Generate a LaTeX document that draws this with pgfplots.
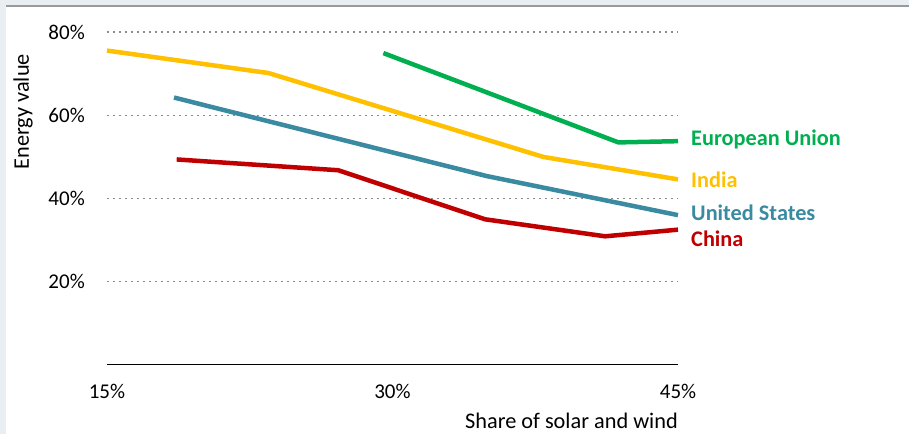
\documentclass[border=0pt]{standalone}
\usepackage{pgfplots}
\pgfplotsset{compat=1.18}
\usepackage{fontspec}
\setmainfont{Carlito}

\definecolor{euGreen}{HTML}{00B050}
\definecolor{inYellow}{HTML}{FFC000}
\definecolor{usBlue}{HTML}{3A8BA1}
\definecolor{cnRed}{HTML}{C00000}
\definecolor{frame}{HTML}{E9EEF2}

\newcommand{\fs}{\fontsize{21}{23}\selectfont}
\newcommand{\fl}{\fontsize{22.3}{24}\selectfont}

\begin{document}
\begin{tikzpicture}
% picture size in px-like points: origin is the axis' lower left corner
\path[use as bounding box] (-107pt,-69.3pt) rectangle (802pt,364.7pt);
\fill[frame] (-107pt,-69.3pt) rectangle (802pt,364.7pt);
\fill[white] (-101pt,-69.3pt) rectangle (802pt,357.7pt);
\draw[gray!80, line width=1.6pt] (-101pt,358.5pt) -- (802pt,358.5pt);

\begin{axis}[
  at={(0pt,0pt)}, anchor=south west,
  scale only axis,
  width=571pt, height=332.4pt,
  xmin=15, xmax=45, ymin=0, ymax=80,
  axis x line*=bottom, axis y line*=left,
  axis line style={-},
  x axis line style={black, line width=1.3pt},
  y axis line style={draw=none},
  xtick={15,30,45}, xticklabels={15\%,30\%,45\%},
  ytick={20,40,60,80}, yticklabels={20\%,40\%,60\%,80\%},
  major tick length=0pt,
  /pgf/number format/assume math mode=true,
  tick label style={font=\fs, inner sep=0pt},
  xticklabel style={anchor=base, yshift=-34pt},
  yticklabel style={anchor=east, xshift=-22pt},
  ymajorgrids,
  major grid style={gray!90, line width=1.6pt, dash pattern=on 1.6pt off 4.4pt},
  xlabel={Share of solar and wind},
  xlabel style={font=\fl, at={(axis description cs:1,0)}, anchor=base east, yshift=-64pt, inner sep=0pt},
  ylabel={Energy value},
  ylabel style={font=\fl, at={(axis description cs:0,0.761)}, anchor=center, yshift=84pt},
  clip=false,
  every axis plot/.append style={line width=4.5pt, line join=round, mark=none},
]
\addplot[euGreen] coordinates {(29.52,75.0) (41.87,53.5) (45,53.8)};
\addplot[inYellow] coordinates {(15,75.6) (23.48,70.2) (37.93,50.0) (45,44.6)};
\addplot[usBlue] coordinates {(18.52,64.3) (34.95,45.4) (45,36.0)};
\addplot[cnRed] coordinates {(18.66,49.4) (27.15,46.8) (34.86,35.0) (41.17,30.9) (45,32.5)};

\node[anchor=west, inner sep=0pt, text=euGreen, font=\fl\bfseries] at (axis cs:45,54.3) [xshift=13pt] {European Union};
\node[anchor=west, inner sep=0pt, text=inYellow, font=\fl\bfseries] at (axis cs:45,44.6) [xshift=13pt] {India};
\node[anchor=west, inner sep=0pt, text=usBlue, font=\fl\bfseries] at (axis cs:45,36.6) [xshift=13pt] {United States};
\node[anchor=west, inner sep=0pt, text=cnRed, font=\fl\bfseries] at (axis cs:45,30.4) [xshift=13pt] {China};
\end{axis}
\end{tikzpicture}
\end{document}
